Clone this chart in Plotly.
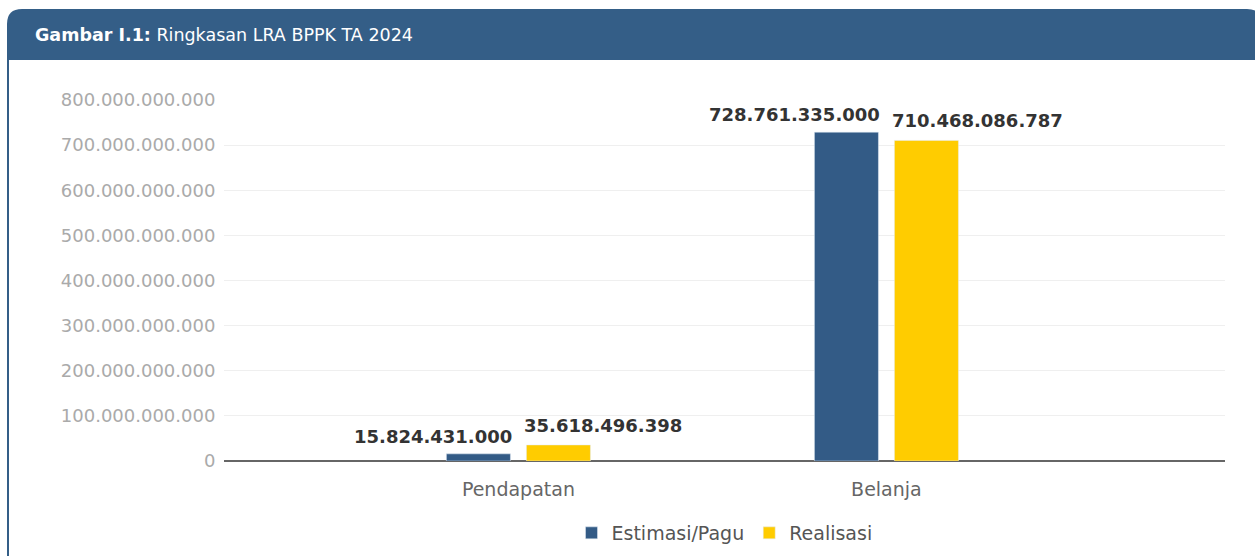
import plotly.graph_objects as go

categories = ["Pendapatan", "Belanja"]
estimasi = [15824431000, 728761335000]
realisasi = [35618496398, 710468086787]
series_names = ["Estimasi/Pagu", "Realisasi"]
y_ticks = [0, 100e9, 200e9, 300e9, 400e9, 500e9, 600e9, 700e9, 800e9]

W, H = 1255, 558
L, R, T, B = 224, 30, 100, 97
PW, PH = W - L - R, H - T - B

BLUE = "#335B86"
YELLOW = "#FFCC00"
HEADER = "#345E87"

def px(x):
    return (x - L) / PW

def py(y):
    return (H - B - y) / PH

bar_w = 0.174
off_e = -0.1957
off_r = 0.0217

fig = go.Figure()
fig.add_trace(go.Bar(x=categories, y=estimasi, name=series_names[0],
                     marker_color=BLUE, width=bar_w, offset=off_e))
fig.add_trace(go.Bar(x=categories, y=realisasi, name=series_names[1],
                     marker_color=YELLOW, width=bar_w, offset=off_r))

def fmt(v):
    return f"{v:,}".replace(",", ".")

annotations = []
for i, v in enumerate(estimasi):
    annotations.append(dict(x=i + off_e + bar_w, y=v, xref="x", yref="y",
                            text=fmt(v), showarrow=False, xanchor="right",
                            yanchor="bottom", yshift=5, xshift=4,
                            font=dict(family="DejaVu Sans", size=18, color="#333333", weight="bold")))
for i, v in enumerate(realisasi):
    annotations.append(dict(x=i + off_r, y=v, xref="x", yref="y",
                            text=fmt(v), showarrow=False, xanchor="left",
                            yanchor="bottom", yshift=7, xshift=-4,
                            font=dict(family="DejaVu Sans", size=18, color="#333333", weight="bold")))

annotations.append(dict(x=px(33), y=py(35), xref="paper", yref="paper",
                        text="<b>Gambar I.1:</b> Ringkasan LRA BPPK TA 2024",
                        showarrow=False, xanchor="left", yanchor="middle",
                        font=dict(family="DejaVu Sans", size=17.5, color="white")))

r = 15
hx0, hx1, hy0, hy1 = 7, 1262, 9, 60
header_path = (
    f"M {px(hx0)},{py(hy1)} L {px(hx0)},{py(hy0 + r)} "
    f"Q {px(hx0)},{py(hy0)} {px(hx0 + r)},{py(hy0)} "
    f"L {px(hx1 - r)},{py(hy0)} Q {px(hx1)},{py(hy0)} {px(hx1)},{py(hy0 + r)} "
    f"L {px(hx1)},{py(hy1)} Z"
)
shapes = [
    dict(type="path", path=header_path, xref="paper", yref="paper",
         fillcolor=HEADER, line=dict(width=0), layer="below"),
    dict(type="line", xref="paper", yref="paper", x0=px(8), x1=px(8),
         y0=py(60), y1=py(556), line=dict(color=HEADER, width=2)),
]

fig.update_layout(
    width=W, height=H,
    margin=dict(l=L, r=R, t=T, b=B, autoexpand=False),
    paper_bgcolor="white", plot_bgcolor="white",
    separators=",.",
    barmode="group",
    showlegend=True,
    legend=dict(orientation="h", x=0.5, xanchor="center", y=py(533), yanchor="middle",
                font=dict(family="DejaVu Sans", size=19, color="#555555"),
                itemwidth=30, traceorder="normal"),
    xaxis=dict(type="category", range=[-0.8, 1.92], showgrid=False, automargin=False,
               tickfont=dict(family="DejaVu Sans", size=19, color="#666666"),
               showline=False, zeroline=False, ticks="outside", ticklen=11, tickcolor="rgba(0,0,0,0)"),
    yaxis=dict(range=[0, 800e9], tickvals=y_ticks, tickformat=",", automargin=False,
               showgrid=True, gridcolor="#EFEFEF", gridwidth=1,
               zeroline=True, zerolinecolor="#666666", zerolinewidth=1.5,
               tickfont=dict(family="DejaVu Sans", size=18, color="#AAAAAA"),
               ticks="outside", ticklen=4, tickcolor="rgba(0,0,0,0)", showline=False),
    annotations=annotations,
    shapes=shapes,
)

fig.write_html("out.html")
